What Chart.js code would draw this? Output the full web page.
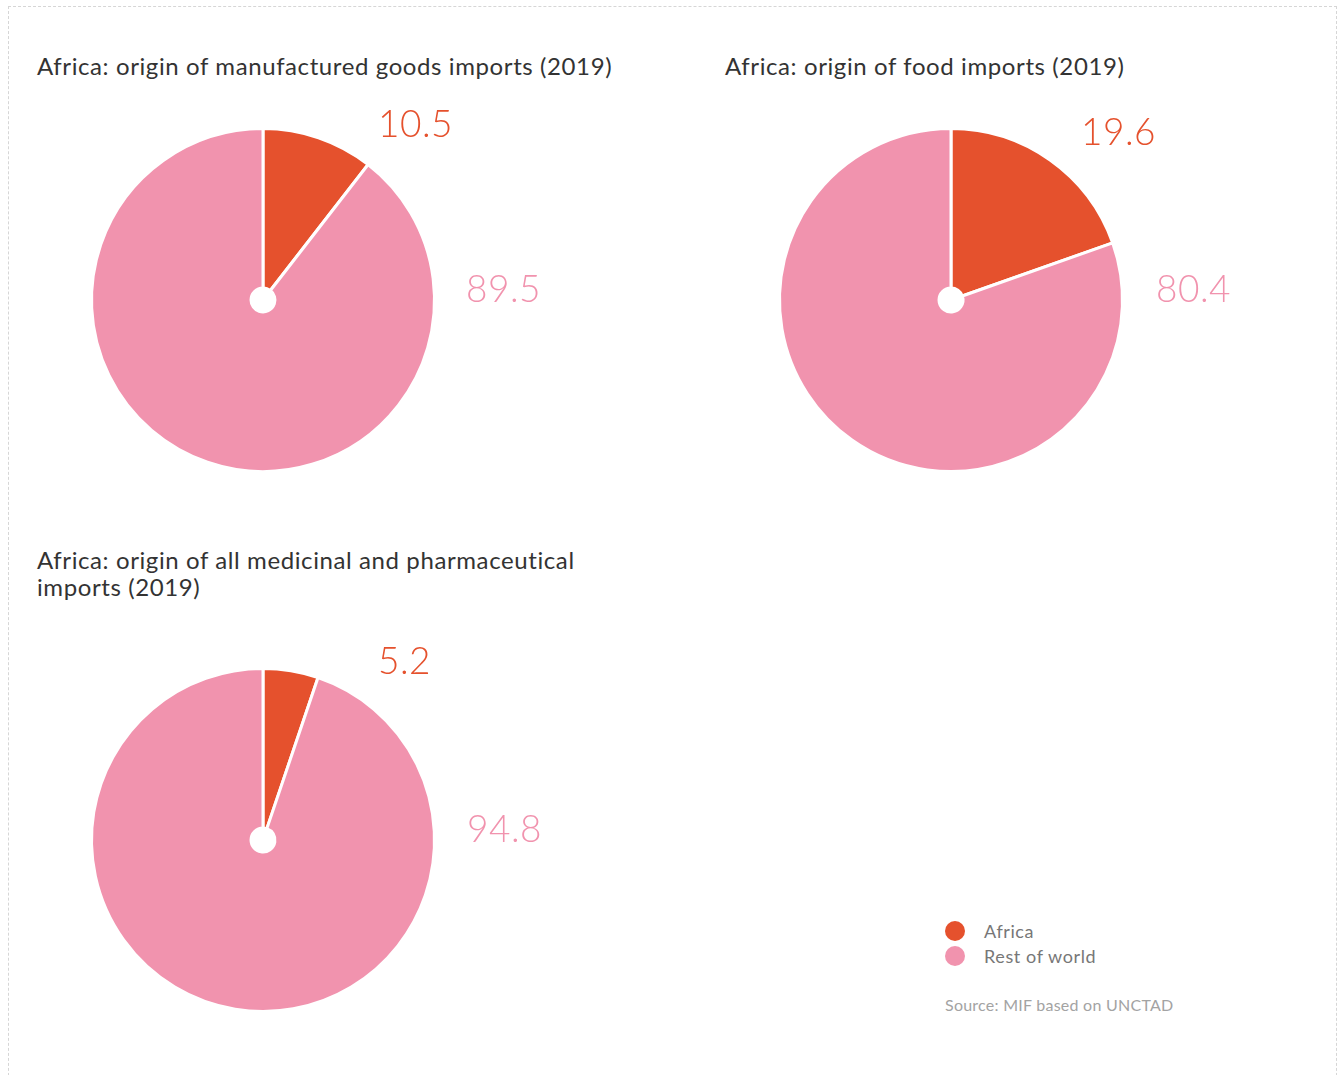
<!DOCTYPE html>
<html>
<head>
<meta charset="utf-8">
<script src="https://cdn.jsdelivr.net/npm/chart.js@4.4.1/dist/chart.umd.min.js"></script>
<style>
  html, body { margin: 0; padding: 0; background: #fff; }
  body { width: 1341px; height: 1075px; position: relative; overflow: hidden; font-family: Lato, "Open Sans", sans-serif; }
  .frame { position: absolute; left: 8px; top: 6px; width: 1329px; height: 1100px; border: 1px dashed #d6d6d6; box-sizing: border-box; }
  .title { position: absolute; font-size: 24px; line-height: 27px; letter-spacing: 0.6px; color: #333; white-space: nowrap; }
  .pie { position: absolute; width: 600px; height: 440px; }
  .legend { position: absolute; left: 945px; top: 919px; font-size: 18px; letter-spacing: 0.6px; color: #777; }
  .legend div { height: 25px; line-height: 25px; position: relative; padding-left: 39px; }
  .legend span { position: absolute; left: 0; top: 2px; width: 20px; height: 20px; border-radius: 50%; }
  .source { position: absolute; left: 945px; top: 995px; font-size: 16px; letter-spacing: 0.25px; color: #a3a3a3; }
</style>
</head>
<body>
<div class="frame"></div>

<div class="title" id="t0" style="left:37px; top:52px;"></div>
<div class="title" id="t1" style="left:725px; top:52px;"></div>
<div class="title" id="t2" style="left:37px; top:546px;"></div>

<canvas class="pie" id="c0" width="600" height="440" style="left:63px; top:90px;"></canvas>
<canvas class="pie" id="c1" width="600" height="440" style="left:751px; top:90px;"></canvas>
<canvas class="pie" id="c2" width="600" height="440" style="left:63px; top:630px;"></canvas>

<div class="legend" id="legend"></div>
<div class="source">Source: MIF based on UNCTAD</div>

<script>
// Shares of imports by origin, 2019 (%)
const categories = ['Africa', 'Rest of world'];
const colors = ['#E5512D', '#F193AE'];

const titles = [
  ['Africa: origin of manufactured goods imports (2019)'],
  ['Africa: origin of food imports (2019)'],
  ['Africa: origin of all medicinal and pharmaceutical', 'imports (2019)']
];
const manufacturedGoods = [10.5, 89.5];
const foodImports = [19.6, 80.4];
const pharmaImports = [5.2, 94.8];
const seriesList = [manufacturedGoods, foodImports, pharmaImports];

// where the two value labels sit, relative to the pie centre (px)
const labelPlacement = [
  { first: [115, -163], second: [203, 2] },
  { first: [130, -155], second: [205, 2] },
  { first: [115, -166], second: [204, 2] }
];

// Value labels drawn beside each pie
const valueLabels = {
  id: 'valueLabels',
  afterDatasetsDraw(chart, args, opts) {
    const meta = chart.getDatasetMeta(0);
    const arc = meta.data[0];
    const cx = arc.x, cy = arc.y;
    const ctx = chart.ctx;
    const values = chart.data.datasets[0].data;
    const spots = [opts.place.first, opts.place.second];
    ctx.save();
    ctx.font = '300 37px Lato, "Open Sans", sans-serif';
    ctx.textAlign = 'left';
    ctx.textBaseline = 'alphabetic';
    if ('letterSpacing' in ctx) ctx.letterSpacing = '0.5px';
    values.forEach((v, i) => {
      ctx.fillStyle = colors[i];
      ctx.fillText(v.toFixed(1), cx + spots[i][0], cy + spots[i][1]);
    });
    ctx.restore();
  }
};

seriesList.forEach((values, k) => {
  document.getElementById('t' + k).innerHTML = titles[k].join('<br>');
  new Chart(document.getElementById('c' + k), {
    type: 'doughnut',
    data: {
      labels: categories,
      datasets: [{
        data: values,
        backgroundColor: colors,
        borderColor: '#ffffff',
        borderWidth: 3,
        hoverOffset: 0
      }]
    },
    options: {
      responsive: false,
      animation: false,
      cutout: 12,
      layout: { padding: { left: 27, top: 37, right: 227, bottom: 57 } },
      plugins: {
        legend: { display: false },
        tooltip: { enabled: false },
        valueLabels: { place: labelPlacement[k] }
      },
      events: []
    },
    plugins: [valueLabels]
  });
});

// Shared legend
const legend = document.getElementById('legend');
categories.forEach((c, i) => {
  const row = document.createElement('div');
  row.innerHTML = '<span style="background:' + colors[i] + '"></span>' + c;
  legend.appendChild(row);
});
</script>
</body>
</html>
